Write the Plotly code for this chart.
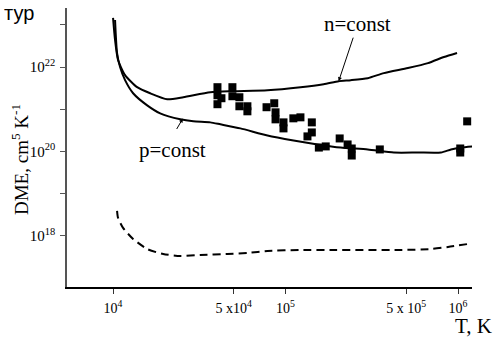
import numpy as np
import plotly.graph_objects as go

# n = const curve
T_n = [1.00e4, 1.027e4, 1.069e4, 1.174e4, 1.379e4, 1.641e4, 2.061e4, 2.553e4, 3.664e4, 4.985e4,
       7.860e4, 1.222e5, 1.663e5, 2.033e5, 2.387e5, 2.998e5, 3.714e5, 5.122e5, 6.692e5, 8.290e5, 9.867e5]
DME_n = [1.47e23, 4.40e22, 1.47e22, 6.45e21, 3.34e21, 2.40e21, 1.73e21, 1.93e21, 2.54e21, 2.68e21,
         2.83e21, 3.34e21, 3.94e21, 4.64e21, 4.90e21, 5.47e21, 7.20e21, 9.47e21, 1.24e22, 1.73e22, 2.15e22]

# p = const curve
T_p = [1.027e4, 1.055e4, 1.098e4, 1.174e4, 1.307e4, 1.577e4, 1.876e4, 2.452e4, 2.918e4, 3.664e4,
       4.190e4, 5.474e4, 7.860e4, 1.113e5, 1.535e5, 2.088e5, 2.998e5, 4.246e5, 5.854e5, 7.965e5,
       9.104e5, 1.041e6, 1.222e6]
DME_p = [1.31e23, 2.15e22, 1.0e22, 4.90e21, 2.40e21, 1.24e21, 8.03e20, 5.78e20, 5.18e20, 4.90e20,
         4.40e20, 3.53e20, 2.40e20, 1.83e20, 1.47e20, 1.24e20, 1.12e20, 9.47e19, 9.47e19, 9.47e19,
         1.12e20, 1.24e20, 1.32e20]

# dashed curve
T_d = [1.055e4, 1.069e4, 1.143e4, 1.307e4, 1.577e4, 1.953e4, 2.452e4, 3.204e4, 4.601e4, 6.013e4,
       7.860e4, 1.222e5, 1.902e5, 4.664e5, 6.966e5, 8.747e5, 1.143e6]
DME_d = [3.94e18, 2.68e18, 1.55e18, 8.48e17, 4.90e17, 3.73e17, 3.34e17, 3.53e17, 3.73e17, 3.94e17,
         4.40e17, 4.64e17, 4.64e17, 4.64e17, 4.90e17, 5.47e17, 6.45e17]

# observed points
T_obs = [4.03e4, 4.03e4, 4.03e4, 4.25e4, 4.92e4, 4.92e4, 5.40e4, 5.40e4, 6.01e4, 6.01e4,
         7.76e4, 8.60e4, 8.75e4, 8.75e4, 9.73e4, 9.73e4, 1.11e5, 1.22e5, 1.42e5, 1.42e5,
         1.34e5, 1.56e5, 1.71e5, 2.06e5, 2.29e5, 2.42e5, 2.42e5, 3.52e5, 1.03e6, 1.03e6, 1.13e6]
DME_obs = [3.34e21, 2.15e21, 1.32e21, 1.83e21, 3.34e21, 2.04e21, 1.93e21, 1.18e21, 1.18e21, 8.96e20,
           1.12e21, 1.39e21, 8.48e20, 5.78e20, 4.90e20, 3.53e20, 6.11e20, 6.45e20, 4.90e20, 2.83e20,
           2.28e20, 1.24e20, 1.32e20, 2.04e20, 1.47e20, 1.18e20, 8.03e19, 1.12e20, 1.18e20, 9.47e19, 5.18e20]

x_ticks = [1e4, 5e4, 1e5, 5e5, 1e6]
x_ticktext = ["10<sup>4</sup>", "5 x10<sup>4</sup>", "10<sup>5</sup>", "5 x 10<sup>5</sup>", "10<sup>6</sup>"]
y_ticks = [1e18, 1e19, 1e20, 1e21, 1e22, 1e23]
y_ticktext = ["10<sup>18</sup>", " ", "10<sup>20</sup>", " ", "10<sup>22</sup>", " "]

serif = "Liberation Serif, Times New Roman, serif"

fig = go.Figure()
fig.add_trace(go.Scatter(x=T_n, y=DME_n, mode="lines", line=dict(color="black", width=2, shape="spline", smoothing=0.6)))
fig.add_trace(go.Scatter(x=T_p, y=DME_p, mode="lines", line=dict(color="black", width=2, shape="spline", smoothing=0.6)))
fig.add_trace(go.Scatter(x=T_d, y=DME_d, mode="lines", line=dict(color="black", width=2, dash="8px,5px", shape="spline", smoothing=0.6)))
fig.add_trace(go.Scatter(x=T_obs, y=DME_obs, mode="markers",
                         marker=dict(symbol="square", size=8, color="black", line=dict(width=0))))

W, H = 497, 338
L, R, T, B = 67, 25, 8, 51
pw, ph = W - L - R, H - T - B

def px(x):
    return (x - L) / pw

def py(y):
    return 1 - (y - T) / ph

annotations = [
    dict(text="n=const", x=px(357), y=py(24), xref="paper", yref="paper", showarrow=False,
         xanchor="center", yanchor="middle",
         font=dict(family=serif, size=21, color="black")),
    dict(text="p=const", x=px(172), y=py(150), xref="paper", yref="paper", showarrow=False,
         xanchor="center", yanchor="middle",
         font=dict(family=serif, size=21, color="black")),
    dict(text="", x=np.log10(T_n[13]), y=np.log10(DME_n[13]), xref="x", yref="y",
         showarrow=True, arrowhead=2, arrowsize=0.8, arrowwidth=1, arrowcolor="black", ax=15, ay=-45),
    dict(text="", x=np.log10(T_p[7]) + 0.015, y=np.log10(DME_p[7]) + 0.02, xref="x", yref="y",
         showarrow=True, arrowhead=2, arrowsize=0.8, arrowwidth=1, arrowcolor="black", ax=-7, ay=12),
    dict(text="DME, cm<sup>5</sup> K<sup>-1</sup>", x=px(20), y=py(160), xref="paper", yref="paper",
         xanchor="center", yanchor="middle",
         showarrow=False, textangle=-90, font=dict(family=serif, size=19, color="black")),
    dict(text="T, K", x=px(473), y=py(325.5), xref="paper", yref="paper", showarrow=False,
         xanchor="center", yanchor="middle",
         font=dict(family=serif, size=21, color="black")),
    dict(text="тур", x=px(36), y=py(13), xref="paper", yref="paper", xanchor="right", yanchor="middle",
         showarrow=False,
         font=dict(family="Liberation Sans, Arial, sans-serif", size=20, color="black")),
]

fig.update_layout(
    width=W, height=H,
    margin=dict(l=L, r=R, t=T, b=B),
    paper_bgcolor="white", plot_bgcolor="white",
    showlegend=False,
    annotations=annotations,
    xaxis=dict(type="log", range=[3.733, 6.081], tickvals=x_ticks, ticktext=x_ticktext,
               ticks="outside", ticklen=5, tickcolor="#333", showgrid=False, zeroline=False,
               showline=True, linecolor="black", linewidth=1.5, ticklabelstandoff=2,
               tickfont=dict(family=serif, size=14, color="black")),
    yaxis=dict(type="log", range=[16.79, 23.40], tickvals=y_ticks, ticktext=y_ticktext,
               ticks="outside", ticklen=5, tickcolor="#555", showgrid=False, zeroline=False,
               showline=True, linecolor="#555", linewidth=1.5, ticklabelstandoff=2,
               tickfont=dict(family=serif, size=15, color="black")),
)

fig.write_html("out.html", config={"displayModeBar": False},
               post_script="document.body.style.margin='0';document.body.style.padding='0';")
